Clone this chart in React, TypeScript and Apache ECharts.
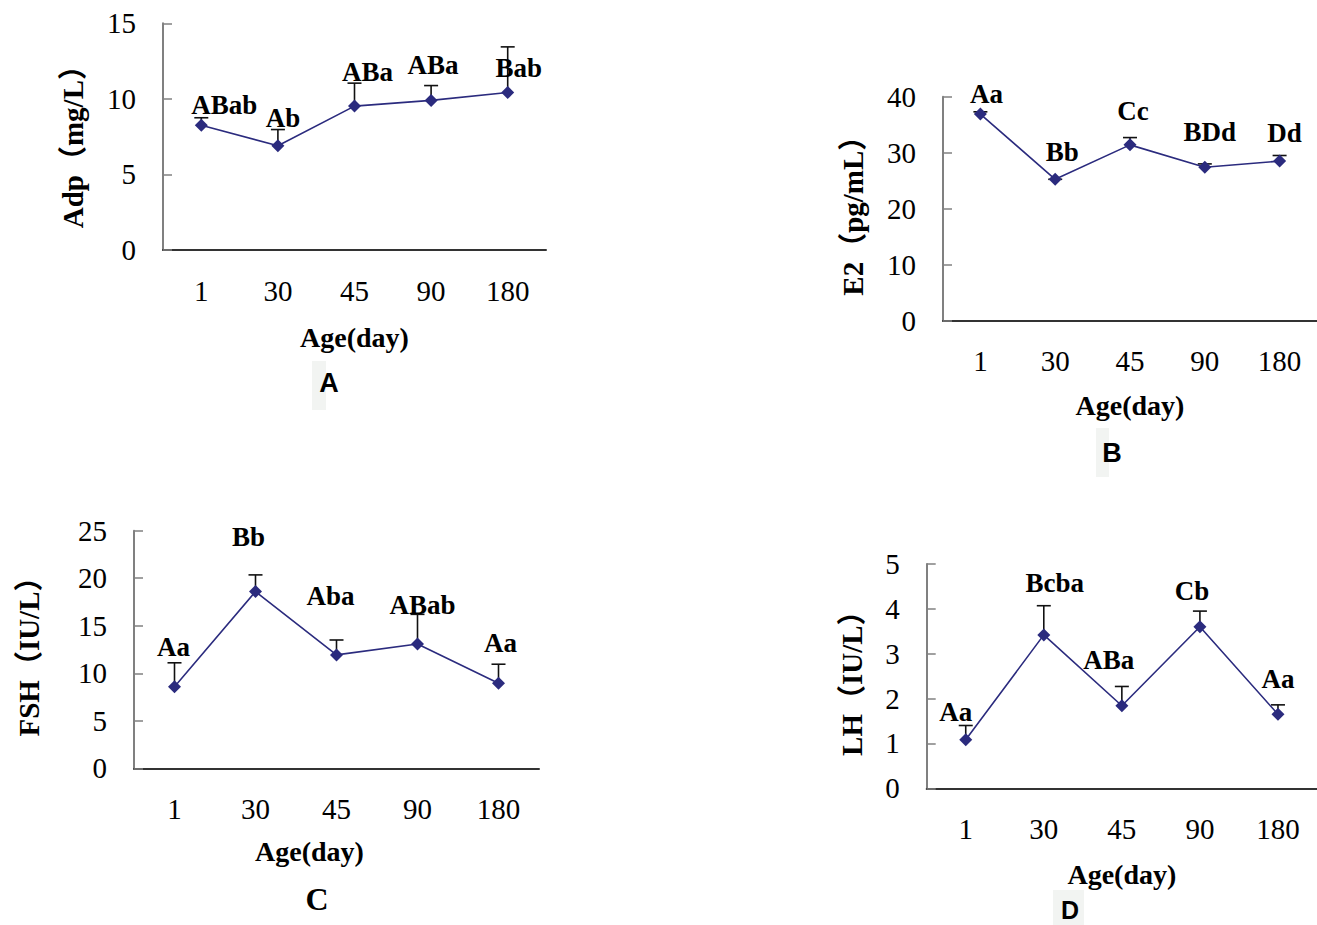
import React, { useEffect, useRef } from "react";
import * as echarts from "echarts";

const ages = ["1", "30", "45", "90", "180"];

const adpMean = [8.26, 6.9, 9.52, 9.9, 10.42];
const adpTop = [8.75, 7.97, 11.04, 10.88, 13.44];
const adpLetters = ["ABab", "Ab", "ABa", "ABa", "Bab"];

const e2Mean = [36.9, 25.25, 31.4, 27.4, 28.5];
const e2Top = [37.3, 25.25, 32.7, 28.0, 29.5];
const e2Letters = ["Aa", "Bb", "Cc", "BDd", "Dd"];

const fshMean = [8.59, 18.59, 11.93, 13.08, 8.95];
const fshTop = [11.1, 20.35, 13.5, 16.2, 10.95];
const fshLetters = ["Aa", "Bb", "Aba", "ABab", "Aa"];

const lhMean = [1.08, 3.42, 1.84, 3.6, 1.65];
const lhTop = [1.4, 4.07, 2.27, 3.95, 1.86];
const lhLetters = ["Aa", "Bcba", "ABa", "Cb", "Aa"];

// label offsets (layout only, pixels relative to the point)
const offA = [[23, -20], [5, -28], [13, -34], [2, -35], [11, -25]];
const offB = [[6, -20], [7, -27], [3, -34], [5, -35], [5, -28]];
const offC = [[-1, -40], [-7, -55], [-6, -59], [5, -39], [2, -40]];
const offD = [[-10, -28], [11, -52], [-13, -46], [-8, -36], [0, -35]];

const SERIF = "'Liberation Serif', 'Times New Roman', serif";
const NAMEFONT = "'Liberation Serif', 'Noto Sans CJK SC', serif";
const LINE = "#2b2b7e";

type Panel = {
  grid: { left: number; top: number; width: number; height: number };
  max: number;
  interval: number;
  yName: string;
  yGap: number;
  yShift: number;
  xGap: number;
  xShift: number;
  mean: number[];
  top: number[];
  letters: string[];
  offsets: number[][];
};

const panels: Panel[] = [
  {
    grid: { left: 163, top: 23.3, width: 383, height: 226.7 },
    max: 15, interval: 5, yName: "Adp（mg/L）", yGap: 76, yShift: 3, xGap: 73, xShift: 0,
    mean: adpMean, top: adpTop, letters: adpLetters, offsets: offA,
  },
  {
    grid: { left: 943, top: 96.7, width: 383.5, height: 224 },
    max: 40, interval: 10, yName: "E2（pg/mL）", yGap: 76, yShift: 0, xGap: 71, xShift: 0,
    mean: e2Mean, top: e2Top, letters: e2Letters, offsets: offB,
  },
  {
    grid: { left: 134, top: 530.7, width: 405, height: 237.6 },
    max: 25, interval: 5, yName: "FSH（IU/L）", yGap: 91, yShift: 0, xGap: 69, xShift: 27,
    mean: fshMean, top: fshTop, letters: fshLetters, offsets: offC,
  },
  {
    grid: { left: 926.7, top: 564, width: 400, height: 224.3 },
    max: 5, interval: 1, yName: "LH（IU/L）", yGap: 60, yShift: 0, xGap: 72, xShift: 0,
    mean: lhMean, top: lhTop, letters: lhLetters, offsets: offD,
  },
];

export default function App() {
  const ref = useRef<HTMLDivElement>(null);
  useEffect(() => {
    if (!ref.current) return;
    const chart = echarts.init(ref.current, undefined, { renderer: "svg" });

    const grids: any[] = [];
    const xAxes: any[] = [];
    const yAxes: any[] = [];
    const series: any[] = [];

    panels.forEach((p, i) => {
      grids.push({ ...p.grid, containLabel: false });
      xAxes.push({
        type: "category",
        gridIndex: i,
        data: ages,
        boundaryGap: true,
        name: "Age(day)",
        nameLocation: "middle",
        nameGap: p.xGap,
        nameTextStyle: {
          fontFamily: SERIF,
          fontWeight: "bold",
          fontSize: 28,
          color: "#000",
          padding: [0, p.xShift * 2, 0, 0],
        },
        axisLine: { lineStyle: { color: "#333", width: 2 } },
        axisTick: { inside: true, length: 9, lineStyle: { color: "#333", width: 1.5 } },
        axisLabel: { margin: 26, fontFamily: SERIF, fontSize: 29, color: "#000" },
        splitLine: { show: false },
      });
      yAxes.push({
        type: "value",
        gridIndex: i,
        min: 0,
        max: p.max,
        interval: p.interval,
        name: p.yName,
        nameLocation: "middle",
        nameGap: p.yGap,
        nameTextStyle: {
          fontFamily: NAMEFONT,
          fontWeight: "bold",
          fontSize: 29,
          color: "#000",
          padding: [0, p.yShift * 2, 0, 0],
        },
        axisLine: { show: true, lineStyle: { color: "#808080", width: 2 } },
        axisTick: { show: true, inside: true, length: 9, lineStyle: { color: "#808080", width: 1.5 } },
        axisLabel: { margin: 27, fontFamily: SERIF, fontSize: 29, color: "#000" },
        splitLine: { show: false },
      });
      series.push({
        type: "custom",
        xAxisIndex: i,
        yAxisIndex: i,
        z: 1,
        data: p.mean.map((m, k) => [k, m, p.top[k]]),
        renderItem: (_params: any, api: any) => {
          const x = api.value(0);
          const a = api.coord([x, api.value(1)]);
          const b = api.coord([x, api.value(2)]);
          const style = { stroke: "#111", lineWidth: 1.6 };
          return {
            type: "group",
            children: [
              { type: "line", shape: { x1: a[0], y1: a[1], x2: b[0], y2: b[1] }, style },
              { type: "line", shape: { x1: b[0] - 7, y1: b[1], x2: b[0] + 7, y2: b[1] }, style },
            ],
          };
        },
      });
      series.push({
        type: "line",
        xAxisIndex: i,
        yAxisIndex: i,
        z: 3,
        symbol: "diamond",
        symbolSize: 13,
        lineStyle: { color: LINE, width: 1.6 },
        itemStyle: { color: LINE },
        data: p.mean.map((m, k) => ({
          value: m,
          label: {
            show: true,
            position: "inside",
            formatter: p.letters[k],
            offset: p.offsets[k],
            fontFamily: SERIF,
            fontWeight: "bold",
            fontSize: 27,
            color: "#000",
          },
        })),
      });
    });

    chart.setOption({
      animation: false,
      backgroundColor: "#fff",
      grid: grids,
      xAxis: xAxes,
      yAxis: yAxes,
      series,
      graphic: [
        { type: "rect", shape: { x: 312, y: 361, width: 14, height: 49 }, style: { fill: "#f2f4f2" } },
        { type: "rect", shape: { x: 1096, y: 428, width: 13, height: 49 }, style: { fill: "#f2f4f2" } },
        { type: "rect", shape: { x: 1053, y: 890, width: 31, height: 35 }, style: { fill: "#f2f4f2" } },
        {
          type: "text", x: 329, y: 383,
          style: { text: "A", font: "bold 27px 'Liberation Sans', Arial, sans-serif", fill: "#000", textAlign: "center", textVerticalAlign: "middle" },
        },
        {
          type: "text", x: 1112, y: 453,
          style: { text: "B", font: "bold 27px 'Liberation Sans', Arial, sans-serif", fill: "#000", textAlign: "center", textVerticalAlign: "middle" },
        },
        {
          type: "text", x: 317, y: 899,
          style: { text: "C", font: "bold 32px 'Liberation Serif', serif", fill: "#000", textAlign: "center", textVerticalAlign: "middle" },
        },
        {
          type: "text", x: 1070, y: 910,
          style: { text: "D", font: "bold 25px 'Liberation Sans', Arial, sans-serif", fill: "#000", textAlign: "center", textVerticalAlign: "middle" },
        },
      ],
    });
    return () => chart.dispose();
  }, []);

  return (
    <div
      ref={ref}
      style={{ position: "fixed", left: 0, top: 0, width: 1317, height: 925, background: "#fff" }}
    />
  );
}
